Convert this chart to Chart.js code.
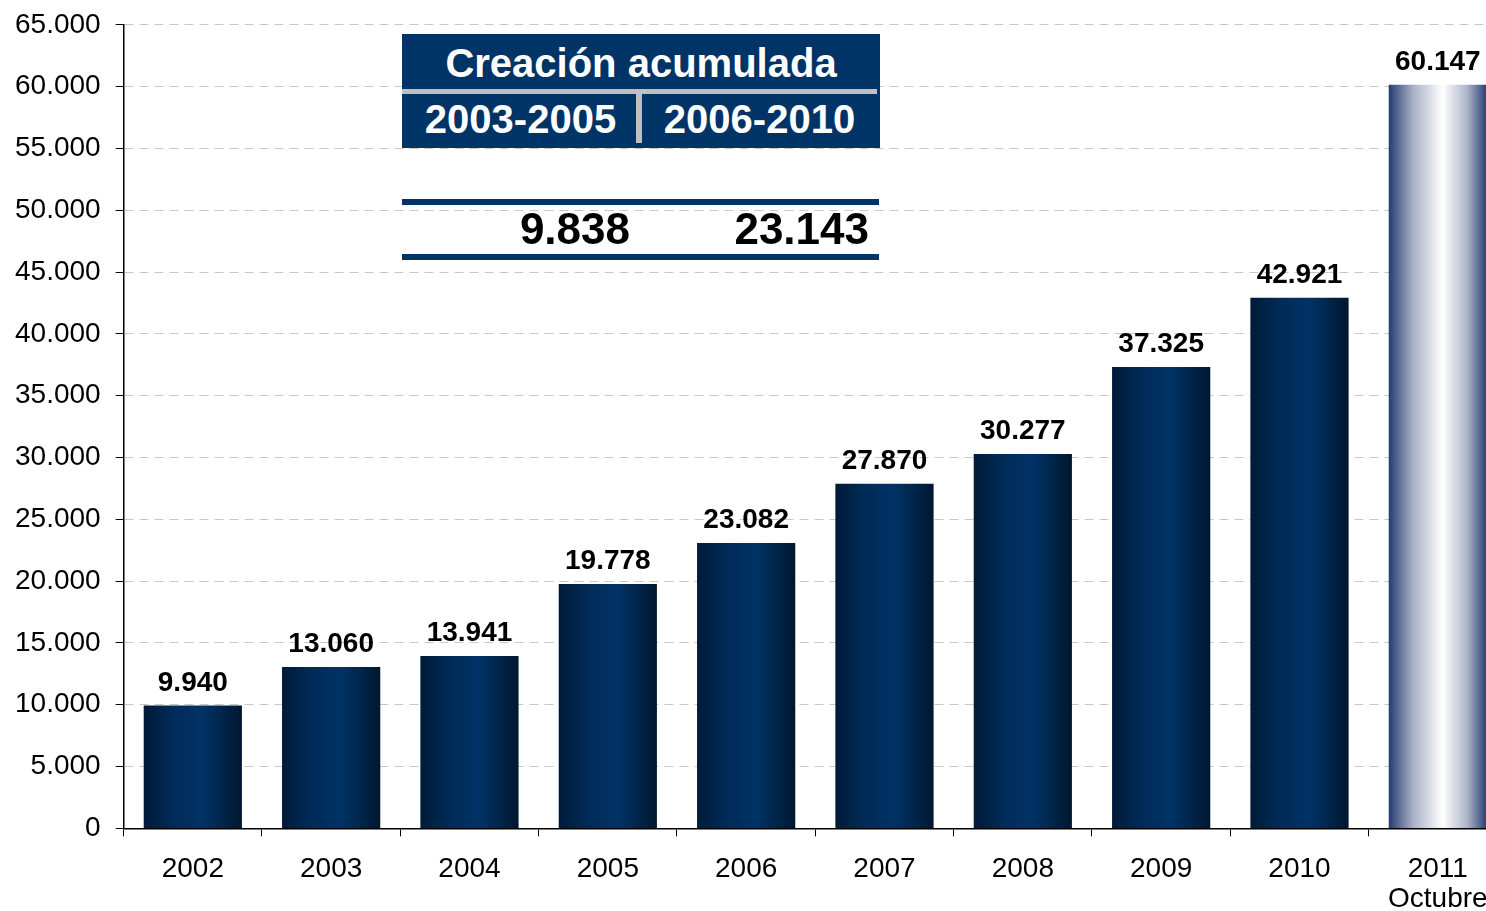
<!DOCTYPE html>
<html>
<head>
<meta charset="utf-8">
<script src="https://cdn.jsdelivr.net/npm/chart.js@4.4.0/dist/chart.umd.min.js"></script>
<style>
  html, body { margin: 0; padding: 0; background: #fff; overflow: hidden; }
  #wrap { position: relative; width: 1486px; height: 911px; overflow: hidden; }
  #chart { position: absolute; left: 0; top: -7px; }
  .box { position: absolute; font-family: "Liberation Sans", Arial, sans-serif; font-weight: bold; }
  .navy { background: #003366; }
  .gray { background: #c0c0c0; }
  .txt { position: absolute; text-align: center; white-space: nowrap; }
</style>
</head>
<body>
<div id="wrap">
  <canvas id="chart" width="1510" height="939"></canvas>
  <div id="table"></div>
</div>
<script>
const years = ['2002', '2003', '2004', '2005', '2006', '2007', '2008', '2009', '2010', ['2011', 'Octubre']];
const values = [9940, 13060, 13941, 19778, 23082, 27870, 30277, 37325, 42921, 60147];
const tableTitle = 'Creación acumulada';
const tablePeriods = ['2003-2005', '2006-2010'];
const tableValues = [9838, 23143];

const FONT = '"Liberation Sans", Arial, sans-serif';

function fmt(n) {
  return String(n).replace(/\B(?=(\d{3})+(?!\d))/g, '.');
}

function barGradient(context) {
  const chart = context.chart;
  const area = chart.chartArea;
  const scale = chart.scales.x;
  if (!area || !scale) return '#003366';
  const i = context.dataIndex;
  const cx = scale.getPixelForValue(i);
  const w = (area.width / values.length) * 0.71;
  const g = chart.ctx.createLinearGradient(cx - w / 2, 0, cx + w / 2, 0);
  if (i === values.length - 1) {
    g.addColorStop(0, '#263c70');
    g.addColorStop(0.25, '#a9b1c6');
    g.addColorStop(0.55, '#ffffff');
    g.addColorStop(0.8, '#adb4c8');
    g.addColorStop(1, '#263c70');
  } else {
    g.addColorStop(0, '#001a38');
    g.addColorStop(0.3, '#002b58');
    g.addColorStop(0.6, '#003366');
    g.addColorStop(1, '#00172f');
  }
  return g;
}

const valueLabels = {
  id: 'valueLabels',
  afterDatasetsDraw(chart) {
    const ctx = chart.ctx;
    const meta = chart.getDatasetMeta(0);
    ctx.save();
    ctx.font = 'bold 28px ' + FONT;
    ctx.fillStyle = '#000';
    ctx.textAlign = 'center';
    ctx.textBaseline = 'alphabetic';
    meta.data.forEach((bar, i) => {
      ctx.fillText(fmt(values[i]), bar.x, bar.y - 15);
    });
    ctx.restore();
  }
};

new Chart(document.getElementById('chart'), {
  type: 'bar',
  data: {
    labels: years,
    datasets: [{
      data: values,
      backgroundColor: barGradient,
      borderWidth: 0,
      categoryPercentage: 1,
      barPercentage: 0.71,
    }],
  },
  options: {
    responsive: false,
    animation: false,
    layout: { padding: { left: 0, top: 10, right: 3, bottom: 0 } },
    plugins: {
      legend: { display: false },
      tooltip: { enabled: false },
    },
    scales: {
      x: {
        grid: {
          drawOnChartArea: false,
          drawTicks: true,
          tickLength: 8,
          tickColor: '#000',
          offset: true,
        },
        border: { color: '#000', width: 1.5 },
        ticks: {
          color: '#000',
          padding: 17,
          maxRotation: 0,
          autoSkip: false,
          font: { family: FONT, size: 28, lineHeight: 1.1 },
        },
      },
      y: {
        min: 0,
        max: 65000,
        grid: {
          color: '#c8c8c8',
          lineWidth: 1,
          tickLength: 8,
          tickColor: '#000',
          tickBorderDash: [],
        },
        border: { color: '#000', width: 1.5, dash: [9, 6] },
        ticks: {
          stepSize: 5000,
          color: '#000',
          padding: 15,
          font: { family: FONT, size: 28 },
          callback: v => fmt(v),
        },
      },
    },
  },
  plugins: [valueLabels],
});

// summary table overlay
const table = document.getElementById('table');
function add(cls, style, text) {
  const d = document.createElement('div');
  d.className = cls;
  Object.assign(d.style, style);
  if (text !== undefined) d.textContent = text;
  table.appendChild(d);
  return d;
}
add('box navy', { left: '402px', top: '34px', width: '478px', height: '114px' });
add('box gray', { left: '402px', top: '89px', width: '475px', height: '5px' });
add('box gray', { left: '636px', top: '94px', width: '6px', height: '49px' });
add('box txt', { left: '402px', top: '43px', width: '478px', fontSize: '40px', lineHeight: '40px', color: '#fff' }, tableTitle);
add('box txt', { left: '402px', top: '99px', width: '237px', fontSize: '40px', lineHeight: '40px', color: '#fff' }, tablePeriods[0]);
add('box txt', { left: '642px', top: '99px', width: '235px', fontSize: '40px', lineHeight: '40px', color: '#fff' }, tablePeriods[1]);
add('box navy', { left: '402px', top: '199px', width: '477px', height: '6px' });
add('box navy', { left: '402px', top: '254px', width: '477px', height: '6px' });
add('box txt', { left: '402px', top: '207px', width: '228px', textAlign: 'right', fontSize: '44px', lineHeight: '44px', color: '#000' }, fmt(tableValues[0]));
add('box txt', { left: '642px', top: '207px', width: '227px', textAlign: 'right', fontSize: '44px', lineHeight: '44px', color: '#000' }, fmt(tableValues[1]));
</script>
</body>
</html>
